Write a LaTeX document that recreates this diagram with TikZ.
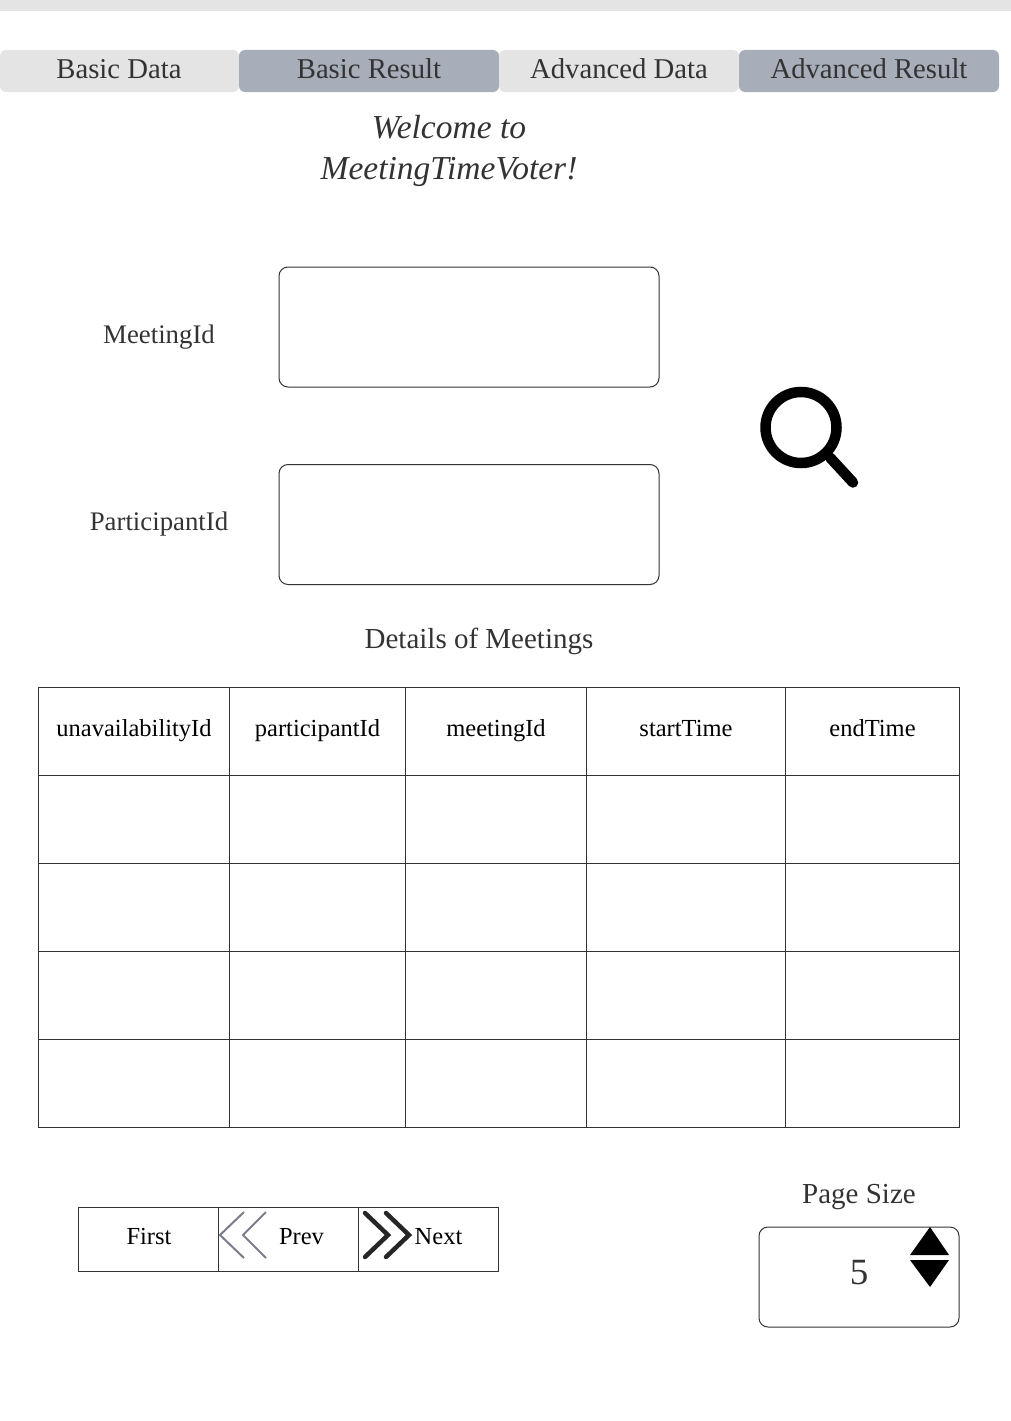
\documentclass[tikz,border=0pt]{standalone}
\usepackage{fontspec}
\setmainfont{Liberation Serif}
\definecolor{tablight}{HTML}{E4E4E4}
\definecolor{tabdark}{HTML}{A7AEB9}
\definecolor{inktext}{HTML}{333333}
\definecolor{chevgrey}{HTML}{7A7D8A}
\tikzset{
  tabbox/.style={rounded corners=6pt,minimum width=#1,minimum height=42pt,inner sep=0pt},
  tabtext/.style={anchor=base,inner sep=0pt,text=inktext,font=\fontsize{28.7}{29}\selectfont},
  inputbox/.style={draw=inktext,line width=1pt,rounded corners=9pt,minimum width=380pt,minimum height=120pt},
  formlabel/.style={anchor=base,inner sep=0pt,text=inktext,font=\fontsize{26.8}{27}\selectfont},
  cellbox/.style={draw=inktext,line width=1pt,inner sep=0pt,minimum height=88pt},
  pagerbox/.style={draw=inktext,line width=1pt,inner sep=0pt,minimum width=140pt,minimum height=64pt},
  pagertext/.style={anchor=base,inner sep=0pt,font=\fontsize{24.5}{24.5}\selectfont}
}
\begin{document}
\begin{tikzpicture}[x=1pt,y=-1pt]
  \useasboundingbox (0,0) rectangle (1011,1421);
  \fill [tablight] (0,0) rectangle (1011,11);
  % tabs
  \node [tabbox=239pt,fill=tablight] (basicdata) at (119.5,71) {};
  \node [tabbox=260pt,fill=tabdark] (basicresult) at (369,71) {};
  \node [tabbox=240pt,fill=tablight] (advdata) at (619,71) {};
  \node [tabbox=260pt,fill=tabdark] (advresult) at (869,71) {};
  \node [tabtext] at (119,78) {Basic Data};
  \node [tabtext] at (369,78) {Basic Result};
  \node [tabtext] at (619,78) {Advanced Data};
  \node [tabtext] at (869,78) {Advanced Result};
  % heading
  \node [inner sep=0pt,text=inktext,align=center,font=\fontsize{33.5}{41}\selectfont\itshape] (welcome) at (449,151) {Welcome to\\MeetingTimeVoter!};
  % search form
  \node [formlabel] (meetinglabel) at (159,343) {MeetingId};
  \node [inputbox] (meetingbox) at (469,327) {};
  \node [formlabel] (participantlabel) at (159,530) {ParticipantId};
  \node [inputbox] (participantbox) at (469,524.5) {};
  % magnifier
  \draw [line width=10.5pt] (801,427.5) circle (35.5);
  \draw [line width=10.5pt,line cap=round] (830,457.5) -- (853,482.5);
  % table
  \node [formlabel,font=\fontsize{29}{29}\selectfont] (detailstitle) at (479,648) {Details of Meetings};
  \foreach \name/\xmid/\wid/\lab in {unavail/134/191/unavailabilityId,partic/317.5/176/participantId,meeting/496/181/meetingId,start/686/199/startTime,finish/872.5/174/endTime}{
    \node [cellbox,minimum width=\wid pt] (\name-head) at (\xmid,731.5) {};
    \node [pagertext] at (\xmid,736) {\lab};
    \foreach \row/\ymid in {1/819.5,2/907.5,3/995.5,4/1083.5}{
      \node [cellbox,minimum width=\wid pt] (\name-\row) at (\xmid,\ymid) {};
    }
  }
  % pager
  \node [pagerbox] (firstbox) at (148.5,1239.5) {};
  \node [pagerbox] (prevbox) at (288.5,1239.5) {};
  \node [pagerbox] (nextbox) at (428.5,1239.5) {};
  \node [pagertext] at (149,1244) {First};
  \node [pagertext] at (301.5,1244) {Prev};
  \node [pagertext] at (438.5,1244) {Next};
  \draw [chevgrey,line width=2pt] (244,1212) -- (220,1235) -- (244,1258);
  \draw [chevgrey,line width=2pt] (266,1212) -- (243,1235) -- (266,1258);
  \draw [black!85,line width=4.5pt,line cap=round] (365,1213) -- (388,1235) -- (365,1257);
  \draw [black!85,line width=4.5pt,line cap=round] (386,1213) -- (409,1235) -- (386,1257);
  % page size
  \node [formlabel,font=\fontsize{29}{29}\selectfont] (sizelabel) at (859,1203) {Page Size};
  \node [draw=inktext,line width=1pt,rounded corners=9pt,minimum width=200pt,minimum height=100pt] (sizebox) at (859,1277) {};
  \node [formlabel,font=\fontsize{37}{37}\selectfont] (sizevalue) at (859,1284) {5};
  \fill [black] (930,1227) -- (949,1255) -- (910,1255) -- cycle;
  \fill [black] (910,1260) -- (949,1260) -- (930,1287) -- cycle;
\end{tikzpicture}
\end{document}
